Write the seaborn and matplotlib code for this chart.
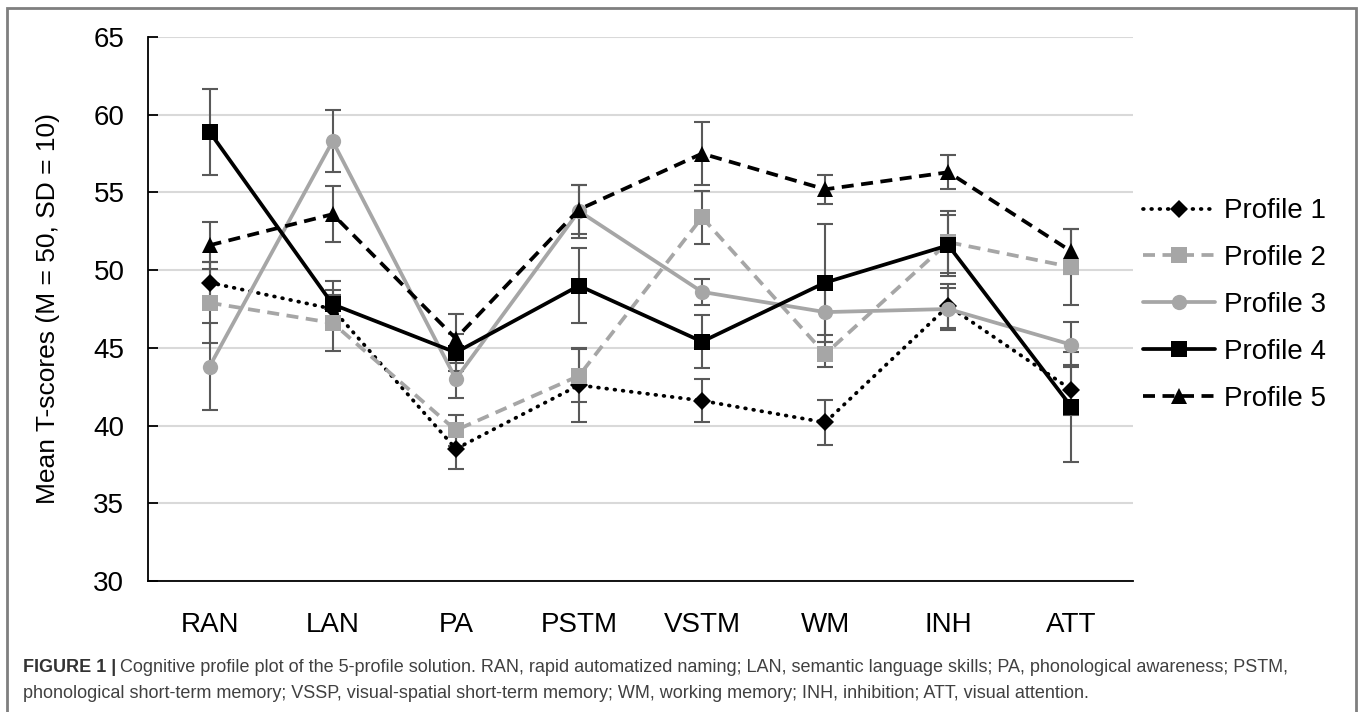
import matplotlib
matplotlib.use("Agg")
import matplotlib.pyplot as plt
from matplotlib.patches import Rectangle
import seaborn as sns
import pandas as pd
import numpy as np

categories = ["RAN", "LAN", "PA", "PSTM", "VSTM", "WM", "INH", "ATT"]
profiles = ["Profile 1", "Profile 2", "Profile 3", "Profile 4", "Profile 5"]

p1 = [49.2, 47.5, 38.5, 42.6, 41.6, 40.2, 47.7, 42.3]
p2 = [47.9, 46.6, 39.7, 43.2, 53.4, 44.6, 51.8, 50.2]
p3 = [43.8, 58.3, 43.0, 53.8, 48.6, 47.3, 47.5, 45.2]
p4 = [58.9, 47.8, 44.7, 49.0, 45.4, 49.2, 51.6, 41.2]
p5 = [51.6, 53.6, 45.6, 53.9, 57.5, 55.2, 56.3, 51.2]

p1_err = [1.3, 1.2, 1.3, 2.4, 1.4, 1.45, 1.4, 1.6]
p2_err = [2.6, 1.8, 1.0, 1.7, 1.7, 0.8, 2.0, 2.45]
p3_err = [2.8, 2.0, 1.2, 1.7, 0.85, 1.5, 1.35, 1.45]
p4_err = [2.75, 1.5, 1.2, 2.4, 1.7, 3.8, 1.95, 3.55]
p5_err = [1.5, 1.8, 1.6, 1.6, 2.0, 0.95, 1.1, 1.45]

values = [p1, p2, p3, p4, p5]
errors = [p1_err, p2_err, p3_err, p4_err, p5_err]

caption1 = ("Cognitive profile plot of the 5-profile solution. RAN, rapid automatized naming; "
            "LAN, semantic language skills; PA, phonological awareness; PSTM,")
caption2 = ("phonological short-term memory; VSSP, visual-spatial short-term memory; "
            "WM, working memory; INH, inhibition; ATT, visual attention.")

rows = []
for name, vals in zip(profiles, values):
    for c, v in zip(categories, vals):
        rows.append({"category": c, "profile": name, "score": v})
df = pd.DataFrame(rows)

sns.set_style("white")
plt.rcParams["font.family"] = ["Liberation Sans", "DejaVu Sans"]
plt.rcParams["text.color"] = "black"
plt.rcParams["xtick.color"] = "black"
plt.rcParams["ytick.color"] = "black"
plt.rcParams["axes.labelcolor"] = "black"

black = "#000000"
gray = "#a6a6a6"
palette = {"Profile 1": black, "Profile 2": gray, "Profile 3": gray,
           "Profile 4": black, "Profile 5": black}
markers = {"Profile 1": "D", "Profile 2": "s", "Profile 3": "o",
           "Profile 4": "s", "Profile 5": "^"}
dashes = {"Profile 1": (0.2, 2.0), "Profile 2": (3.2, 2.0), "Profile 3": "",
          "Profile 4": "", "Profile 5": (3.2, 2.0)}

fig = plt.figure(figsize=(13.58, 7.12), dpi=100)
ax = fig.add_axes([148 / 1358, 1 - 581 / 712, 985 / 1358, 544 / 712])

sns.lineplot(data=df, x="category", y="score", hue="profile", style="profile",
             hue_order=profiles, style_order=profiles, palette=palette,
             markers=markers, dashes=dashes, linewidth=2.7, markersize=11,
             markeredgewidth=0, legend=False, sort=False, ax=ax, zorder=3)

series_lines = list(ax.lines[:5])
series_lines[0].set_dash_capstyle("round")
series_lines[0].set_markersize(9)

x = np.arange(len(categories))
for vals, errs in zip(values, errors):
    ax.errorbar(x, vals, yerr=errs, fmt="none", ecolor="#595959",
                elinewidth=1.5, capsize=5.5, capthick=1.5, zorder=2)

ax.set_xlim(-0.5, len(categories) - 0.5)
ax.set_ylim(30, 65)
ax.set_yticks(range(30, 70, 5))
ax.yaxis.grid(True, color="#d9d9d9", linewidth=1.5)
ax.xaxis.grid(False)
ax.set_axisbelow(True)
for s in ["top", "right"]:
    ax.spines[s].set_visible(False)
ax.spines["left"].set_color(black)
ax.spines["left"].set_linewidth(1.3)
ax.spines["bottom"].set_color(black)
ax.spines["bottom"].set_linewidth(1.3)
ax.tick_params(axis="y", direction="in", length=7, width=1.3, labelsize=20, pad=17, left=True)
ax.tick_params(axis="x", length=0, labelsize=20, pad=22)
ax.set_xlabel("")
ax.set_ylabel("Mean T-scores (M = 50, SD = 10)", fontsize=19)
ax.yaxis.set_label_coords(-0.089, 0.5)

ax.legend(series_lines, profiles, loc="center left",
          bbox_to_anchor=(1143 / 1358, 1 - 305 / 712), bbox_transform=fig.transFigure,
          frameon=False, fontsize=20, handlelength=2.6, handletextpad=0.3,
          labelspacing=0.75, borderpad=0, borderaxespad=0)

fig.patches.append(Rectangle((7 / 1358, -0.05), 1349 / 1358, 1 + 0.05 - 8 / 712,
                             transform=fig.transFigure, fill=False,
                             edgecolor="#7f7f7f", linewidth=2))

fig.canvas.draw()
renderer = fig.canvas.get_renderer()
t = fig.text(23 / 1358, 1 - 668 / 712, "FIGURE 1 |", fontsize=13, weight="bold",
             color="#333333", va="center")
bb = t.get_window_extent(renderer)
fig.text((bb.x1 + 4) / 1358, 1 - 668 / 712, caption1, fontsize=13,
         color="#404040", va="center")
fig.text(23 / 1358, 1 - 694 / 712, caption2, fontsize=13, color="#404040", va="center")

fig.savefig("out.png", dpi=100)
